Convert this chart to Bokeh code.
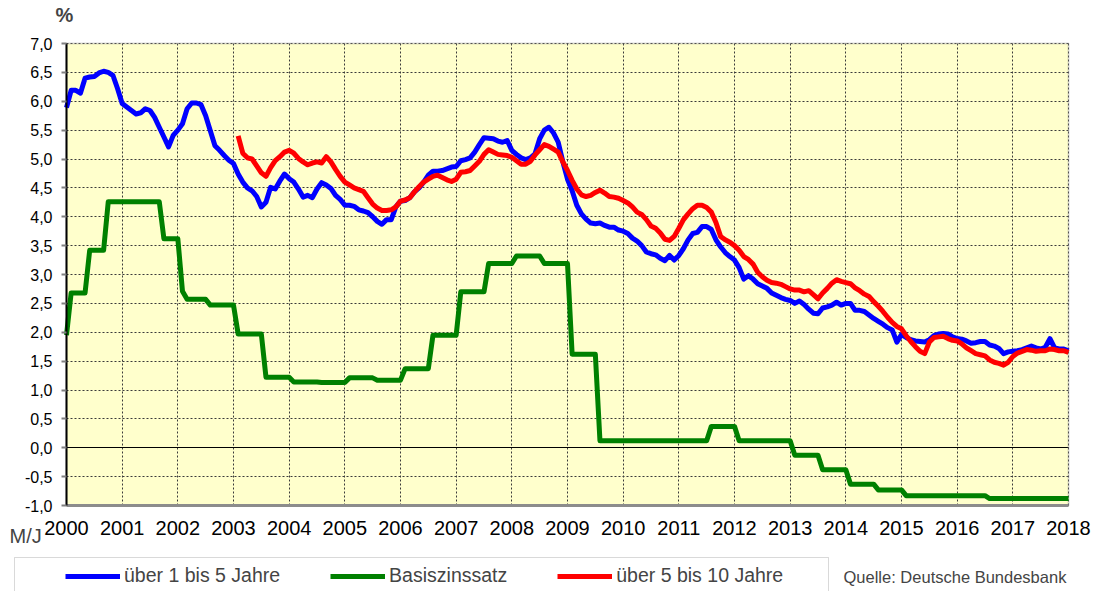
from bokeh.plotting import figure
from bokeh.models import (Range1d, FixedTicker, CustomJSTickFormatter, Label, Grid,
                          Legend, LegendItem, BoxAnnotation)
from bokeh.embed import file_html
from bokeh.resources import INLINE

FONT = "Liberation Sans"

# ---------------- data ----------------
year_ticks = list(range(2000, 2019))
value_ticks = [-1.0, -0.5, 0.0, 0.5, 1.0, 1.5, 2.0, 2.5, 3.0, 3.5, 4.0, 4.5,
               5.0, 5.5, 6.0, 6.5, 7.0]

series_names = ["über 1 bis 5 Jahre", "Basiszinssatz", "über 5 bis 10 Jahre"]
source_note = "Quelle: Deutsche Bundesbank"
unit_label = "%"
time_label = "M/J"

# monthly yields, "über 1 bis 5 Jahre", starting 1999-12
blue_start = "1999-12"
blue_vals = [
    5.89, 6.19, 6.19, 6.14, 6.40, 6.42, 6.43, 6.49, 6.52, 6.50, 6.45, 6.22,
    5.96, 5.90, 5.84, 5.78, 5.80, 5.87, 5.84, 5.72, 5.55, 5.38, 5.21, 5.41,
    5.50, 5.61, 5.87, 5.97, 5.97, 5.94, 5.75, 5.49, 5.23, 5.15, 5.06, 4.98,
    4.92, 4.74, 4.60, 4.50, 4.45, 4.35, 4.17, 4.25, 4.51, 4.48, 4.62, 4.74,
    4.66, 4.60, 4.48, 4.34, 4.37, 4.33, 4.48, 4.59, 4.55, 4.49, 4.37, 4.30,
    4.20, 4.20, 4.18, 4.12, 4.10, 4.07, 4.00, 3.92, 3.87, 3.95, 3.95, 4.17,
    4.27, 4.28, 4.33, 4.43, 4.50, 4.60, 4.72, 4.79, 4.79, 4.80, 4.83, 4.86,
    4.87, 4.97, 4.99, 5.02, 5.12, 5.25, 5.37, 5.36, 5.35, 5.31, 5.29, 5.32,
    5.15, 5.08, 5.02, 4.99, 5.02, 5.09, 5.35, 5.50, 5.55, 5.45, 5.29, 4.95,
    4.65, 4.45, 4.20, 4.05, 3.96, 3.89, 3.88, 3.89, 3.85, 3.82, 3.82, 3.77,
    3.75, 3.71, 3.63, 3.58, 3.50, 3.39, 3.36, 3.34, 3.28, 3.24, 3.33, 3.25,
    3.33, 3.45, 3.60, 3.71, 3.73, 3.83, 3.83, 3.78, 3.60, 3.48, 3.38, 3.31,
    3.25, 3.12, 2.92, 2.98, 2.92, 2.84, 2.80, 2.76, 2.68, 2.64, 2.60, 2.57,
    2.55, 2.50, 2.54, 2.48, 2.40, 2.33, 2.32, 2.42, 2.44, 2.47, 2.52, 2.47,
    2.50, 2.50, 2.38, 2.38, 2.36, 2.30, 2.24, 2.19, 2.14, 2.08, 2.04, 1.83,
    1.96, 1.91, 1.87, 1.85, 1.84, 1.83, 1.87, 1.94, 1.97, 1.98, 1.97, 1.92,
    1.89, 1.88, 1.85, 1.81, 1.82, 1.84, 1.84, 1.78, 1.76, 1.72, 1.63, 1.66,
    1.67, 1.68, 1.70, 1.73, 1.76, 1.73, 1.71, 1.74, 1.89, 1.73, 1.71, 1.71,
    1.68,
]

# monthly yields, "über 5 bis 10 Jahre", starting 2003-01
red_start = "2003-01"
red_vals = [
    5.40, 5.10, 5.02, 5.00, 4.88, 4.76, 4.70, 4.85, 4.97, 5.04, 5.12,
    5.15, 5.10, 5.01, 4.95, 4.90, 4.93, 4.95, 4.93, 5.04, 4.95, 4.82, 4.70,
    4.60, 4.55, 4.50, 4.47, 4.44, 4.33, 4.22, 4.15, 4.11, 4.11, 4.12, 4.17,
    4.27, 4.29, 4.33, 4.43, 4.52, 4.60, 4.65, 4.70, 4.72, 4.68, 4.64, 4.61,
    4.65, 4.77, 4.78, 4.80, 4.88, 4.96, 5.08, 5.16, 5.12, 5.08, 5.07, 5.06,
    5.03, 4.97, 4.91, 4.91, 4.96, 5.07, 5.16, 5.25, 5.22, 5.17, 5.12, 4.95,
    4.80, 4.63, 4.48, 4.38, 4.35, 4.37, 4.42, 4.46, 4.41, 4.35, 4.34, 4.32,
    4.28, 4.24, 4.17, 4.08, 4.04, 3.95, 3.84, 3.80, 3.72, 3.61, 3.59, 3.66,
    3.80, 3.95, 4.05, 4.14, 4.20, 4.20, 4.16, 4.08, 3.90, 3.66, 3.60, 3.56,
    3.50, 3.42, 3.31, 3.26, 3.18, 3.04, 2.96, 2.90, 2.86, 2.85, 2.83, 2.79,
    2.75, 2.73, 2.73, 2.70, 2.72, 2.65, 2.58, 2.68, 2.76, 2.85, 2.91, 2.88,
    2.86, 2.84, 2.77, 2.72, 2.66, 2.62, 2.53, 2.45, 2.36, 2.26, 2.17, 2.10,
    2.06, 1.94, 1.84, 1.75, 1.67, 1.63, 1.83, 1.91, 1.92, 1.93, 1.89, 1.86,
    1.85, 1.80, 1.73, 1.68, 1.63, 1.61, 1.59, 1.52, 1.48, 1.46, 1.43, 1.48,
    1.58, 1.64, 1.67, 1.70, 1.69, 1.67, 1.68, 1.68, 1.71, 1.70, 1.68, 1.68,
    1.65,
]

# Basiszinssatz: month and value at each corner of the step line
green_months = [
    "1999-12", "2000-01", "2000-04", "2000-05", "2000-08", "2000-09", "2001-08",
    "2001-09", "2001-12", "2002-01", "2002-02", "2002-06", "2002-07", "2002-12",
    "2003-01", "2003-06", "2003-07", "2003-12", "2004-01", "2004-06", "2004-07",
    "2004-12", "2005-01", "2005-06", "2005-07", "2005-12", "2006-01", "2006-06",
    "2006-07", "2006-12", "2007-01", "2007-06", "2007-07", "2007-12", "2008-01",
    "2008-06", "2008-07", "2008-12", "2009-01", "2009-06", "2009-07", "2011-06",
    "2011-07", "2011-12", "2012-01", "2012-12", "2013-01", "2013-06", "2013-07",
    "2013-12", "2014-01", "2014-06", "2014-07", "2014-12", "2015-01", "2016-06",
    "2016-07", "2017-12",
]
green_vals = [
    1.95, 2.68, 2.68, 3.42, 3.42, 4.26, 4.26,
    3.62, 3.62, 2.71, 2.57, 2.57, 2.47, 2.47,
    1.97, 1.97, 1.22, 1.22, 1.14, 1.14, 1.13,
    1.13, 1.21, 1.21, 1.17, 1.17, 1.37, 1.37,
    1.95, 1.95, 2.70, 2.70, 3.19, 3.19, 3.32,
    3.32, 3.19, 3.19, 1.62, 1.62, 0.12, 0.12,
    0.37, 0.37, 0.12, 0.12, -0.13, -0.13, -0.38,
    -0.38, -0.63, -0.63, -0.73, -0.73, -0.83, -0.83,
    -0.88, -0.88,
]


def month_pos(s):
    y, m = s.split("-")
    return int(y) + int(m) / 12.0


def monthly_x(start, n):
    x0 = month_pos(start)
    return [x0 + i / 12.0 for i in range(n)]


blue_x = monthly_x(blue_start, len(blue_vals))
red_x = monthly_x(red_start, len(red_vals))
green_x = [month_pos(s) for s in green_months]

# ---------------- layout (pixels) ----------------
W, H = 1106, 591
X0, X1 = year_ticks[0], year_ticks[-1]
Y0, Y1 = value_ticks[0], value_ticks[-1]
PL, PR, PT, PB = 66, 1068, 43, 505          # plot-area edges in canvas pixels
sx = (PR - PL) / (X1 - X0)
sy = (PB - PT) / (Y1 - Y0)
x_range = Range1d(X0 - PL / sx, X1 + (W - PR) / sx)
y_range = Range1d(Y0 - (H - PB) / sy, Y1 + PT / sy)

p = figure(width=W, height=H, x_range=x_range, y_range=y_range,
           output_backend="svg", toolbar_location=None, min_border=0)
p.title.visible = False
p.outline_line_color = None
p.background_fill_color = "white"
p.border_fill_color = "white"

# plot-area background
p.add_layout(BoxAnnotation(left=X0, right=X1, bottom=Y0, top=Y1,
                           fill_color="#FFFFCC", fill_alpha=1, line_color=None,
                           level="image"))

# grids limited to the plot area
p.xgrid.ticker = FixedTicker(ticks=year_ticks)
p.ygrid.ticker = FixedTicker(ticks=value_ticks)
p.xgrid.cross_bounds = (Y0, Y1)
p.ygrid.cross_bounds = (X0, X1)
for g in (p.xgrid, p.ygrid):
    g.grid_line_color = "#3A3A3A"
    g.grid_line_dash = "2 2"
    g.grid_line_width = 1

p.add_layout(Grid(dimension=1, ticker=FixedTicker(ticks=[0]), cross_bounds=(X0, X1),
                  grid_line_color="black", grid_line_width=1))

# plot-area border
p.add_layout(BoxAnnotation(left=X0, right=X1, bottom=Y0, top=Y1,
                           fill_alpha=0, line_color="#8C8C8C", line_width=2,
                           level="underlay"))

# axes fixed on the plot-area edges
p.xaxis.fixed_location = Y0
p.xaxis.bounds = (X0, X1)
p.xaxis.ticker = FixedTicker(ticks=year_ticks)
p.xaxis.major_label_text_font = FONT
p.xaxis.major_label_text_font_size = "20px"
p.xaxis.major_label_text_color = "black"
p.xaxis.major_tick_out = 0
p.xaxis.major_tick_in = 0
p.xaxis.minor_tick_out = 0
p.xaxis.minor_tick_in = 0
p.xaxis.axis_line_color = "#8C8C8C"
p.xaxis.axis_line_width = 3
p.xaxis.major_label_standoff = 15

p.yaxis.fixed_location = X0
p.yaxis.bounds = (Y0, Y1)
p.yaxis.ticker = FixedTicker(ticks=value_ticks)
p.yaxis.formatter = CustomJSTickFormatter(code="return tick.toFixed(1).replace('.', ',');")
p.yaxis.major_label_text_font = FONT
p.yaxis.major_label_text_font_size = "16px"
p.yaxis.major_label_text_color = "black"
p.yaxis.major_tick_out = 5
p.yaxis.major_tick_in = 0
p.yaxis.minor_tick_out = 0
p.yaxis.minor_tick_in = 0
p.yaxis.major_tick_line_color = "#808080"
p.yaxis.major_tick_line_width = 2
p.yaxis.axis_line_color = "black"
p.yaxis.axis_line_width = 2
p.yaxis.major_label_standoff = 9

# series
r_blue = p.line(blue_x, blue_vals, line_color="#0000FF", line_width=5, line_join="round")
r_green = p.line(green_x, green_vals, line_color="#008000", line_width=5, line_join="round")
r_red = p.line(red_x, red_vals, line_color="#FF0000", line_width=5, line_join="round")

# legend frame (open at the bottom edge of the picture)
p.add_layout(BoxAnnotation(left=14, right=828, top=H - 557, bottom=-40,
                           left_units="screen", right_units="screen",
                           top_units="screen", bottom_units="screen",
                           fill_alpha=0, line_color="#808080", line_width=1))

legend = Legend(items=[LegendItem(label=series_names[0], renderers=[r_blue]),
                       LegendItem(label=series_names[1], renderers=[r_green]),
                       LegendItem(label=series_names[2], renderers=[r_red])],
                orientation="horizontal", location=(65, H - 587),
                border_line_alpha=0, background_fill_alpha=0,
                glyph_width=55, glyph_height=22, label_height=22,
                label_standoff=4, spacing=50, padding=0, margin=0,
                label_text_font=FONT, label_text_font_size="19.5px")
p.add_layout(legend)

# texts
p.add_layout(Label(x=9, y=H - 535, x_units="screen", y_units="screen", text=time_label,
                   text_font=FONT, text_font_size="20px", text_baseline="middle",
                   text_align="left"))
p.add_layout(Label(x=55, y=H - 14, x_units="screen", y_units="screen", text=unit_label,
                   text_font=FONT, text_font_size="20px", text_font_style="bold",
                   text_baseline="middle", text_align="left"))
p.add_layout(Label(x=843, y=H - 576, x_units="screen", y_units="screen", text=source_note,
                   text_font=FONT, text_font_size="16.5px", text_baseline="middle",
                   text_align="left"))

open("out.html", "w").write(file_html(p, INLINE))
